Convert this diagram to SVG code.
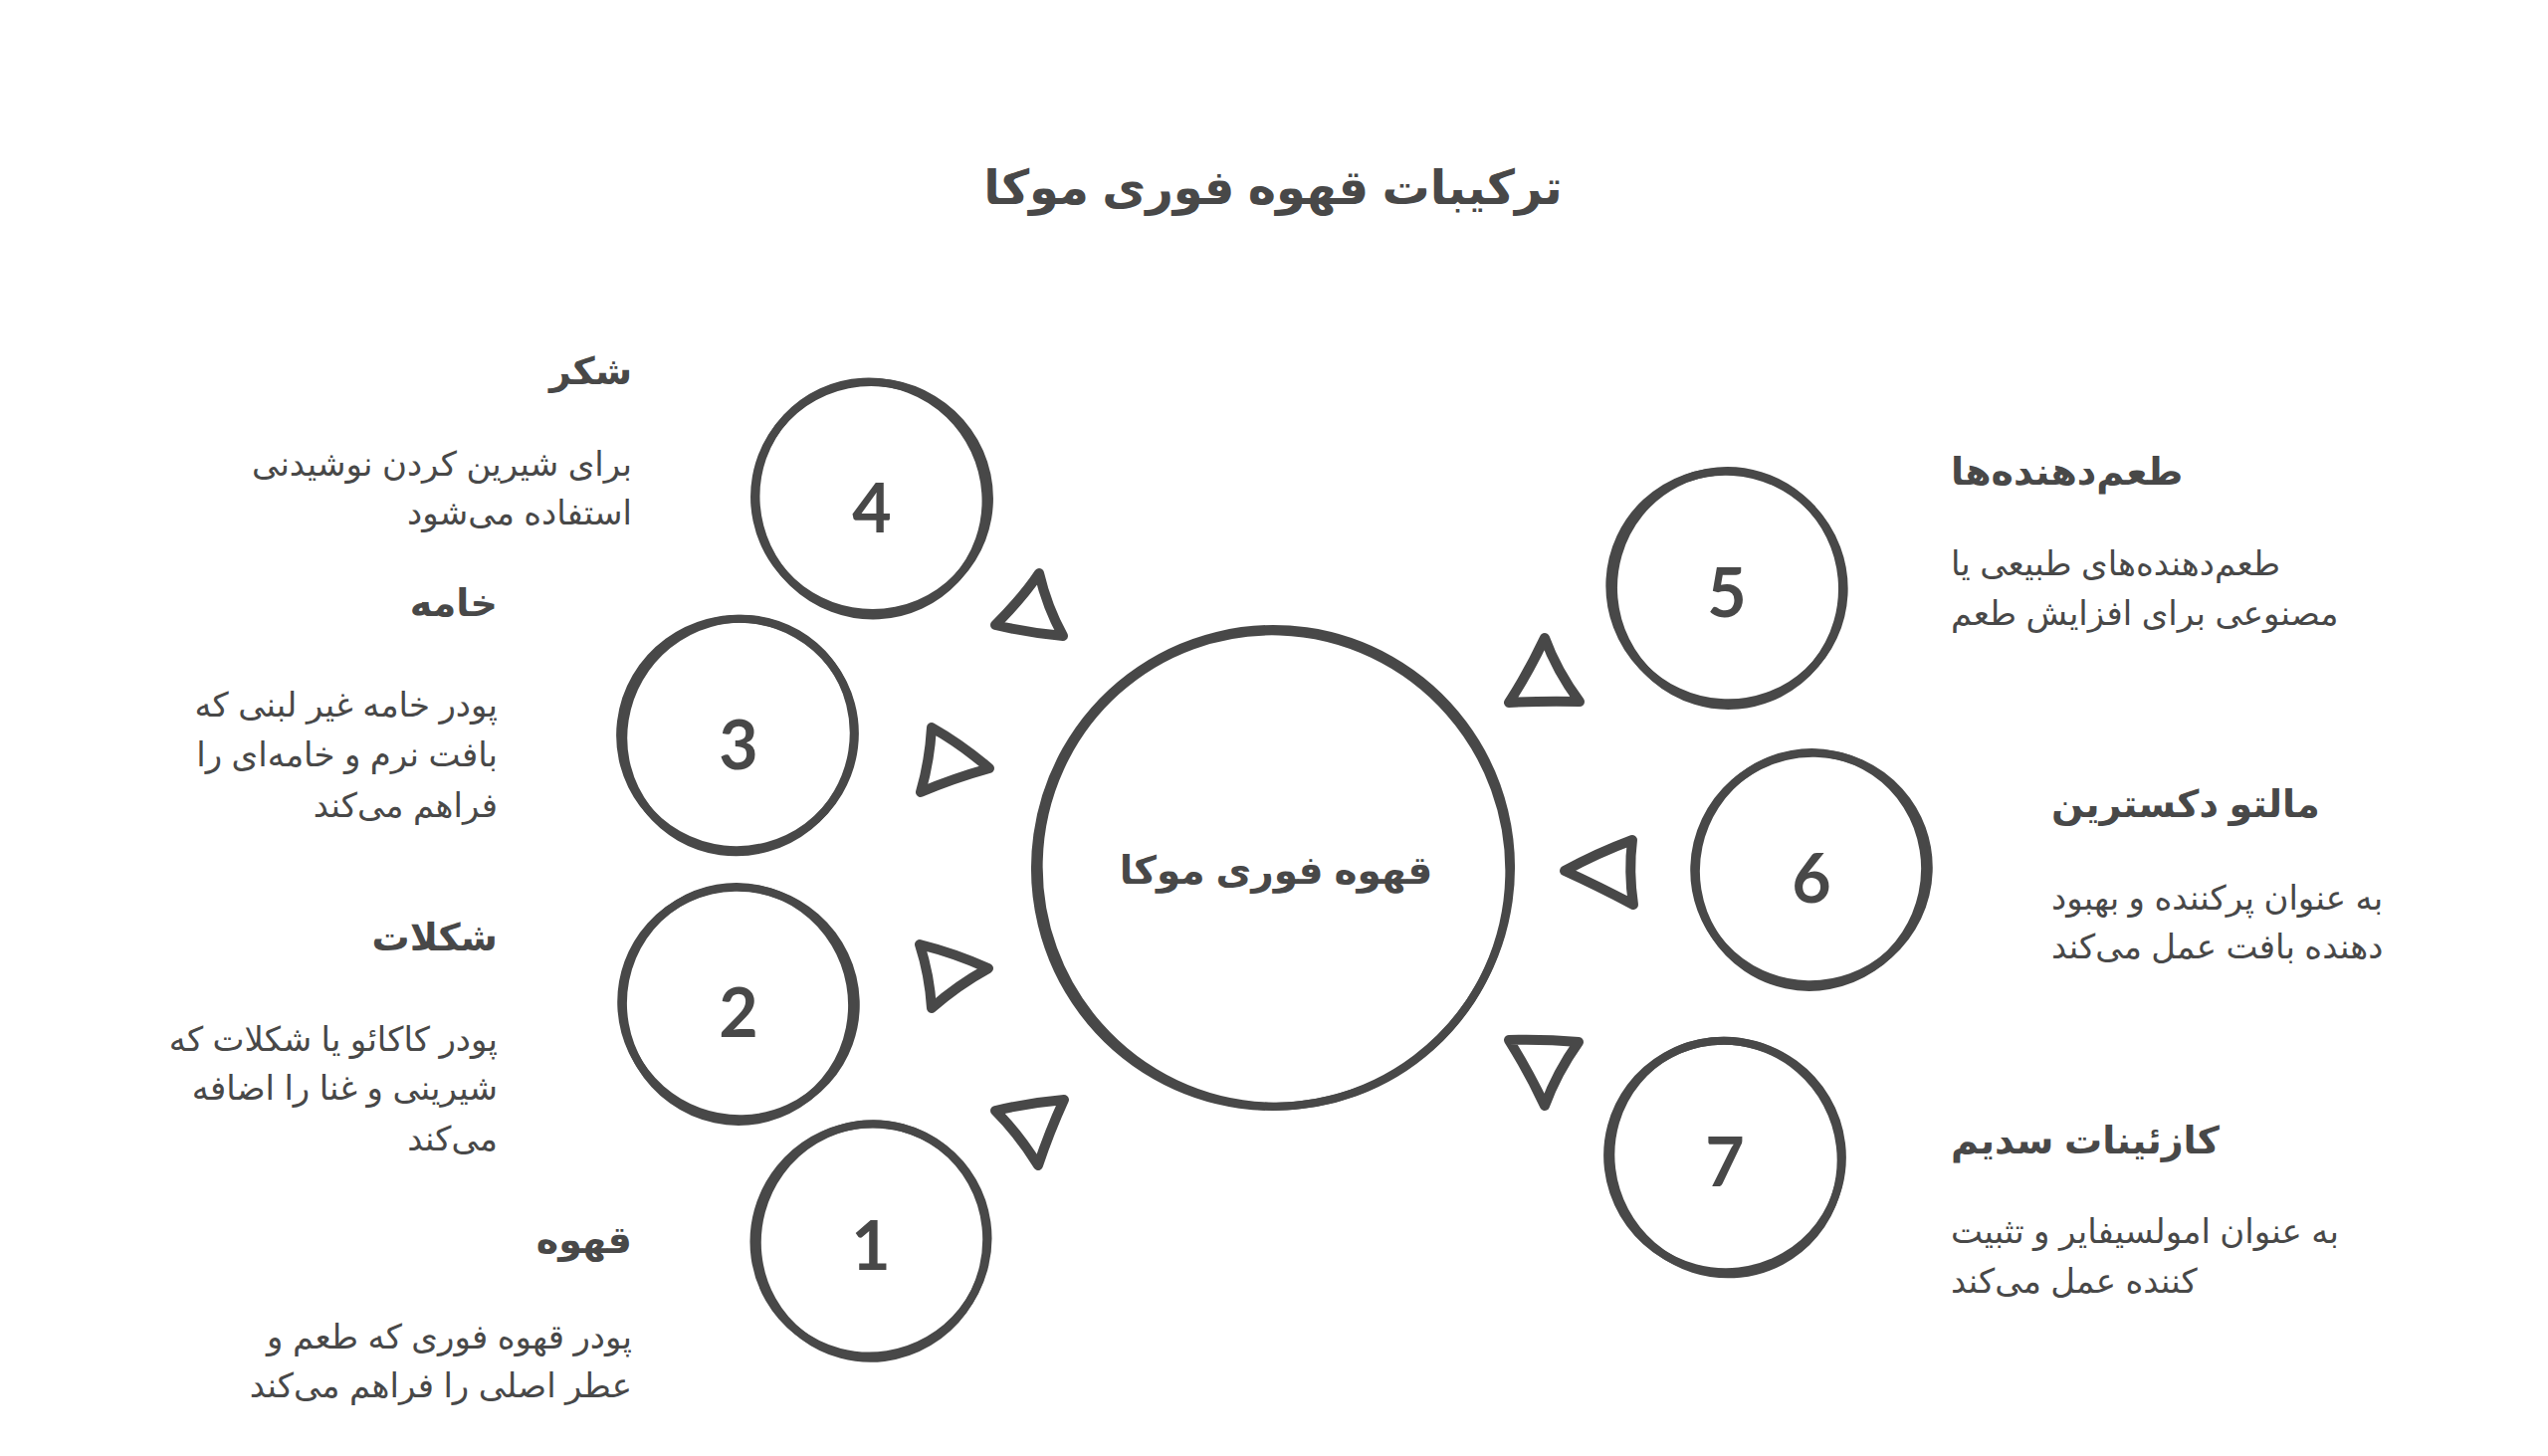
<svg xmlns="http://www.w3.org/2000/svg" width="2560" height="1463" viewBox="0 0 2560 1463">
<style>
.bg{fill:#ffffff}
.ring{fill:none;stroke:#484848;stroke-width:8;stroke-linecap:round}
.tri{fill:none;stroke:#484848;stroke-width:10;stroke-linejoin:round;stroke-linecap:round}
.num{font-family:Lato,"Open Sans",sans-serif;font-weight:700;font-size:68px;fill:#484848;text-anchor:middle}
.title{font-family:"Liberation Sans","DejaVu Sans",sans-serif;font-weight:700;font-size:48px;fill:#484848;text-anchor:middle}
.center{font-family:"Liberation Sans","DejaVu Sans",sans-serif;font-weight:700;font-size:39px;fill:#484848;text-anchor:middle}
.head{font-family:"Liberation Sans","DejaVu Sans",sans-serif;font-weight:700;font-size:38px;fill:#484848}
.desc{font-family:"Liberation Sans","DejaVu Sans",sans-serif;font-size:34px;fill:#484848}
.L{text-anchor:end}
.R{text-anchor:start}
</style>
<rect class="bg" x="0" y="0" width="2560" height="1463"/>
<text class="title" x="1279" y="205">ترکیبات قهوه فوری موکا</text>

<g id="connectors">
<path class="tri" d="M1044,576 Q1028,600 1000,628 Q1034,636 1068,639 Q1052,610 1044,576 Z"/>
<path class="tri" d="M936,731 Q966,748 994,772 Q958,782 925,796 Q934,765 936,731 Z"/>
<path class="tri" d="M924,949 Q960,958 993,973 Q962,990 936,1013 Q934,980 924,949 Z"/>
<path class="tri" d="M1000,1116 Q1034,1108 1069,1105 Q1054,1138 1043,1171 Q1024,1140 1000,1116 Z"/>
<path class="tri" d="M1552,641 Q1536,675 1516,706 Q1552,704 1587,705 Q1564,674 1552,641 Z"/>
<path class="tri" d="M1572,875 Q1605,857 1640,844 Q1636,876 1641,909 Q1605,890 1572,875 Z"/>
<path class="tri" d="M1516,1045 Q1551,1044 1586,1047 Q1564,1078 1552,1111 Q1536,1077 1516,1045 Z"/>
</g>

<g id="center">
<ellipse class="ring" cx="1279" cy="872" rx="239" ry="240" transform="rotate(8 1279 872)"/>
<ellipse class="ring" cx="1280" cy="873" rx="236" ry="239" transform="rotate(-20 1280 873)"/>
<text class="center" x="1282" y="888">قهوه فوری موکا</text>
</g>

<g id="node4">
<ellipse class="ring" cx="876" cy="500" rx="118" ry="116" transform="rotate(10 876 500)"/>
<ellipse class="ring" cx="875" cy="501" rx="115" ry="118" transform="rotate(-25 875 501)"/>
<text class="num" x="876" y="535">4</text>
<text class="head L" x="635" y="386">شکر</text>
<text class="desc L" x="635" y="478">برای شیرین کردن نوشیدنی</text>
<text class="desc L" x="635" y="527">استفاده می‌شود</text>
</g>

<g id="node3">
<ellipse class="ring" cx="741" cy="738" rx="118" ry="116" transform="rotate(-15 741 738)"/>
<ellipse class="ring" cx="742" cy="739" rx="115" ry="118" transform="rotate(30 742 739)"/>
<text class="num" x="742" y="773">3</text>
<text class="head L" x="500" y="619">خامه</text>
<text class="desc L" x="500" y="720">پودر خامه غیر لبنی که</text>
<text class="desc L" x="500" y="770">بافت نرم و خامه‌ای را</text>
<text class="desc L" x="500" y="821">فراهم می‌کند</text>
</g>

<g id="node2">
<ellipse class="ring" cx="742" cy="1008" rx="118" ry="116" transform="rotate(20 742 1008)"/>
<ellipse class="ring" cx="741" cy="1009" rx="115" ry="118" transform="rotate(-10 741 1009)"/>
<text class="num" x="742" y="1042">2</text>
<text class="head L" x="500" y="955">شکلات</text>
<text class="desc L" x="500" y="1056">پودر کاکائو یا شکلات که</text>
<text class="desc L" x="500" y="1105">شیرینی و غنا را اضافه</text>
<text class="desc L" x="500" y="1156">می‌کند</text>
</g>

<g id="node1">
<ellipse class="ring" cx="875" cy="1246" rx="118" ry="116" transform="rotate(-30 875 1246)"/>
<ellipse class="ring" cx="876" cy="1247" rx="115" ry="118" transform="rotate(15 876 1247)"/>
<text class="num" x="875" y="1276">1</text>
<text class="head L" x="635" y="1259">قهوه</text>
<text class="desc L" x="635" y="1355">پودر قهوه فوری که طعم و</text>
<text class="desc L" x="635" y="1404">عطر اصلی را فراهم می‌کند</text>
</g>

<g id="node5">
<ellipse class="ring" cx="1735" cy="590" rx="118" ry="116" transform="rotate(25 1735 590)"/>
<ellipse class="ring" cx="1736" cy="591" rx="115" ry="118" transform="rotate(-5 1736 591)"/>
<text class="num" x="1735" y="620">5</text>
<text class="head R" x="1960" y="487">طعم‌دهنده‌ها</text>
<text class="desc R" x="1960" y="578">طعم‌دهنده‌های طبیعی یا</text>
<text class="desc R" x="1960" y="628">مصنوعی برای افزایش طعم</text>
</g>

<g id="node6">
<ellipse class="ring" cx="1820" cy="873" rx="118" ry="116" transform="rotate(-20 1820 873)"/>
<ellipse class="ring" cx="1819" cy="874" rx="115" ry="118" transform="rotate(12 1819 874)"/>
<text class="num" x="1820" y="907">6</text>
<text class="head R" x="2061" y="821">مالتو دکسترین</text>
<text class="desc R" x="2061" y="914">به عنوان پرکننده و بهبود</text>
<text class="desc R" x="2061" y="963">دهنده بافت عمل می‌کند</text>
</g>

<g id="node7">
<ellipse class="ring" cx="1733" cy="1162" rx="118" ry="116" transform="rotate(15 1733 1162)"/>
<ellipse class="ring" cx="1734" cy="1163" rx="115" ry="118" transform="rotate(-28 1734 1163)"/>
<text class="num" x="1733" y="1192">7</text>
<text class="head R" x="1960" y="1159">کازئینات سدیم</text>
<text class="desc R" x="1960" y="1249">به عنوان امولسیفایر و تثبیت</text>
<text class="desc R" x="1960" y="1299">کننده عمل می‌کند</text>
</g>
</svg>
